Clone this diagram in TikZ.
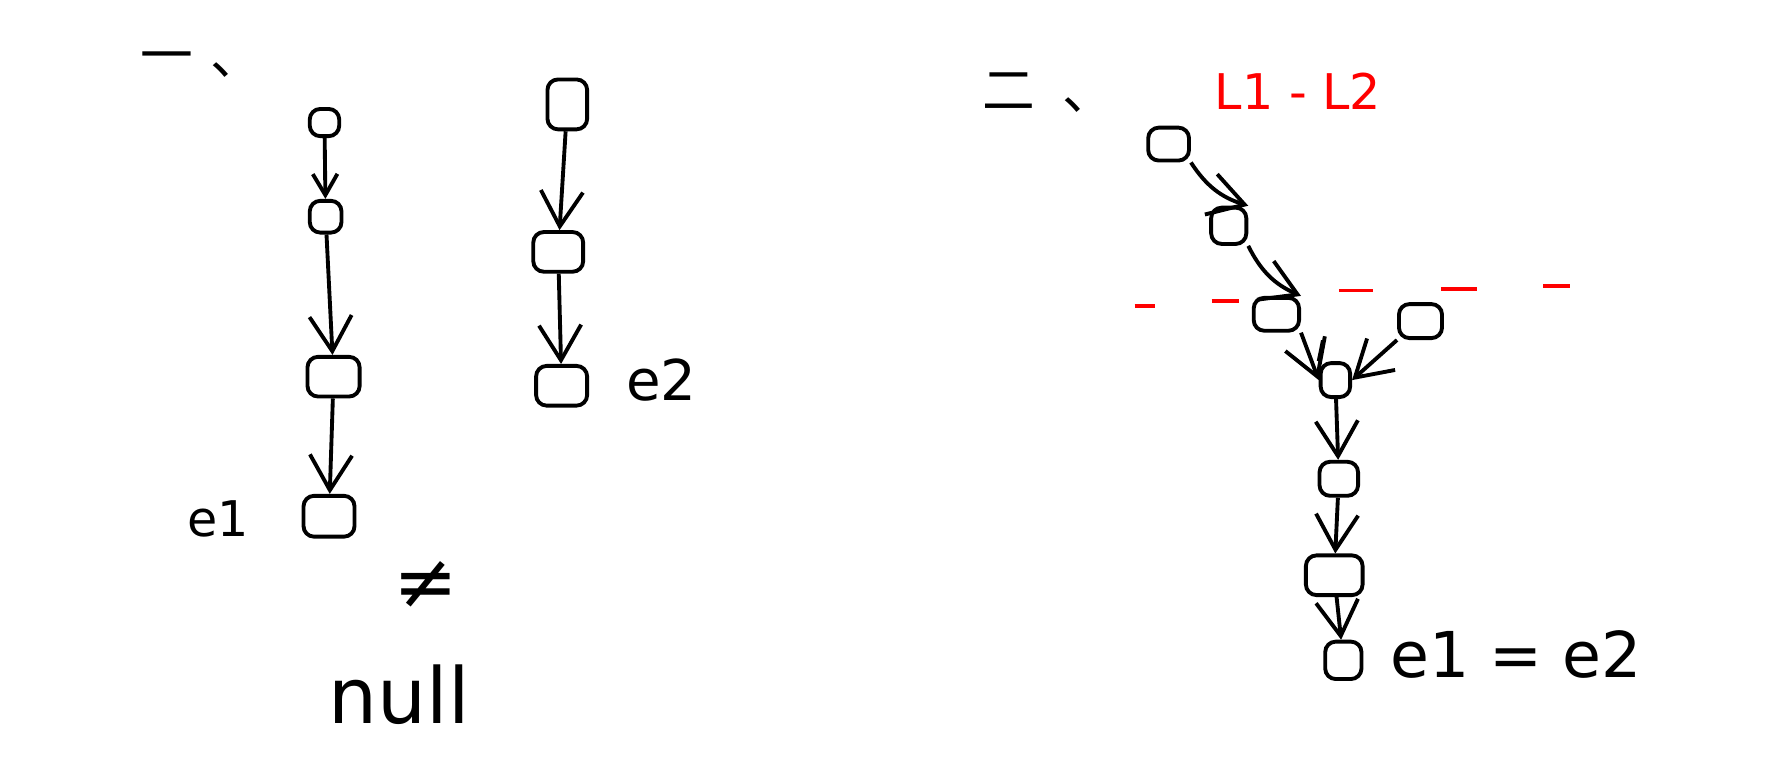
\documentclass[tikz,border=0pt]{standalone}
\usepackage{fontspec}
\setmainfont{DejaVu Sans}
\newfontfamily\cjk{Noto Sans CJK SC}
\usetikzlibrary{arrows.meta}
\begin{document}
\begin{tikzpicture}[x=0.011346cm,y=-0.011346cm, line width=1.1pt,
 blob/.style 2 args={draw, rounded corners=3pt, minimum width=#1*0.3228pt, minimum height=#2*0.3228pt, inner sep=0pt},
 arr/.style={-{Straight Barb[length=10pt,width=12pt]}},
 sarr/.style={-{Straight Barb[length=6pt,width=7pt]}},
 lbl/.style={font=\fontsize{14}{16}\selectfont, inner sep=0pt},
 redline/.style={draw=red, line width=1.1pt},
]
\useasboundingbox (0,0) rectangle (1568,674);
% section one
\node[font=\cjk\fontsize{15}{18}\selectfont, anchor=west, inner sep=0pt] (t1) at (122,57) {一\hspace{5pt}、};
\node[blob={26}{24}] (a1) at (286,108) {};
\node[blob={28}{28}] (a2) at (287,191) {};
\node[blob={46}{35}] (a3) at (294,332) {};
\node[blob={45}{36}] (a4) at (290,455) {};
\draw[sarr] (a1) -- (a2);
\draw[arr] (a2) -- (a3);
\draw[arr] (a3) -- (a4);
\node[lbl] (e1a) at (192,457) {e1};
\node[font=\fontsize{22}{26}\selectfont, inner sep=0pt] (neq) at (375,516) {≠};
\node[font=\fontsize{22}{26}\selectfont, inner sep=0pt] (nul) at (352,612) {null};
\node[blob={35}{44}] (b1) at (500,92) {};
\node[blob={44}{35}] (b2) at (492,222) {};
\node[blob={45}{35}] (b3) at (495,340) {};
\draw[arr] (b1) -- (b2);
\draw[arr] (b2) -- (b3);
\node[font=\fontsize{16}{18}\selectfont, inner sep=0pt] (e2a) at (583,335) {e2};
% section two
\node[font=\cjk\fontsize{15}{18}\selectfont, anchor=west, inner sep=0pt] (t2) at (864,82) {二\hspace{8pt}、};
\node[font=\fontsize{14}{16}\selectfont, text=red, inner sep=0pt] (ll) at (1144,80) {L1 - L2};
\node[blob={36}{29}] (c1) at (1030,127) {};
\node[blob={31}{32}] (c2) at (1083,199) {};
\node[blob={40}{29}] (c3) at (1125,277) {};
\node[blob={38}{30}] (c5) at (1252,283) {};
\node[blob={26}{30}] (c4) at (1177,335) {};
\node[blob={34}{30}] (c6) at (1180,422) {};
\node[blob={50}{35}] (c7) at (1176,507) {};
\node[blob={32}{33}] (c8) at (1184,582) {};
\coordinate (c4top) at (1166,300);
\draw (c4.north west) -- (c4top);
\draw[arr] (c1.south east) to[bend right=20] (c2.north east);
\draw[arr] (c2.south east) to[bend right=20] (c3.north east);
\draw[arr] (c3.south east) -- (c4.west);
\draw[arr] (c5.south west) -- (c4.east);
\draw[arr] (c4) -- (c6);
\draw[arr] (c6) -- (c7);
\draw[arr] (c7) -- (c8);
\node[font=\fontsize{18}{22}\selectfont, inner sep=0pt, anchor=west] (eq) at (1224,577) {e1 = e2};
% red dashes
\draw[redline] (1000,270) -- (1018,270);
\draw[redline] (1068,265) -- (1092,265);
\draw[redline] (1180,256) -- (1210,256);
\draw[redline] (1270,255) -- (1302,255);
\draw[redline] (1360,252) -- (1384,252);
\end{tikzpicture}
\end{document}
